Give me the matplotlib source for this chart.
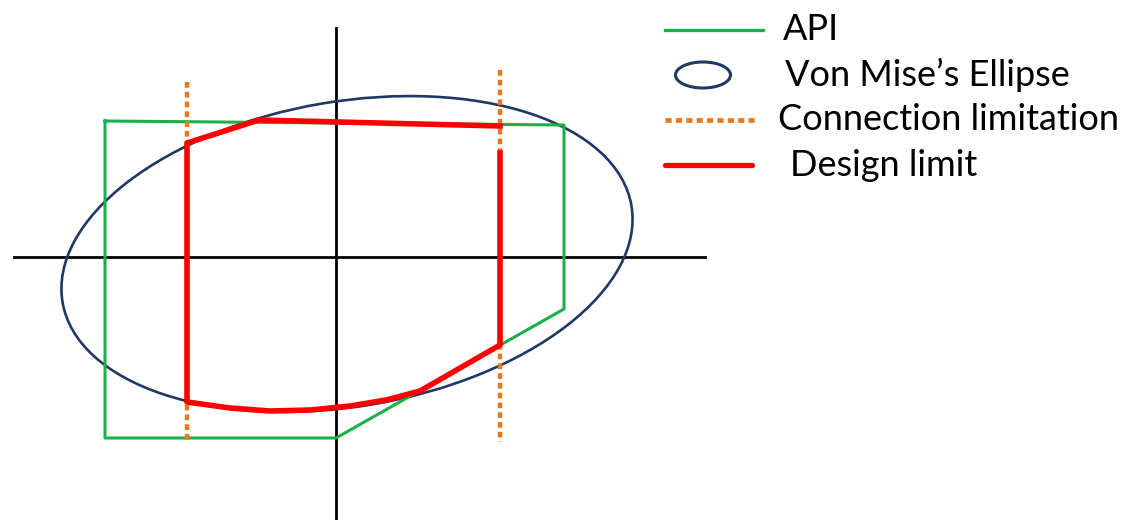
import matplotlib
matplotlib.use('Agg')
import matplotlib.pyplot as plt
from matplotlib.patches import Ellipse

plt.rcParams["font.family"] = ["Lato", "DejaVu Sans"]

# schematic values, origin at the axes crossing, y up
api_x = [-231, 228, 228, 0, -231, -231]
api_y = [136, 132, -52, -181, -181, 136]

design_x = [164, 164, 84, 50, 14, -26, -66, -106, -149, -149, -77, 164]
design_y = [104, -88, -134, -143, -149, -153, -154, -151, -145, 114, 137, 131]

conn_x = [-149, 164]
conn_top = [175, 187]
conn_bottom = [-183, -185]

ell_center = (11, 3)
ell_width = 577
ell_height = 305
ell_angle = 9.65

labels = ["API", "Von Mise\u2019s Ellipse", "Connection limitation", "Design limit"]

green = '#1BAF4B'
navy = '#1F3864'
orange = '#E8791F'
red = '#FF0000'

fig = plt.figure(figsize=(11.26, 5.2), dpi=100)
ax = fig.add_axes([0, 0, 1, 1])
ax.set_xlim(-336, 790)
ax.set_ylim(-263, 257)
ax.axis('off')

# axes cross
ax.plot([-322, 369], [0, 0], color='black', lw=2.0, zorder=1)
ax.plot([0, 0], [229, -263], color='black', lw=2.0, zorder=1)

ax.add_patch(Ellipse(ell_center, ell_width, ell_height, angle=ell_angle,
                     fill=False, edgecolor=navy, lw=1.9, zorder=2))
ax.plot(api_x, api_y, color=green, lw=2.2, zorder=3)
for x, t, b in zip(conn_x, conn_top, conn_bottom):
    ax.plot([x, x], [t, b], color=orange, lw=3.2, dashes=(1.3, 0.9), zorder=4)
ax.plot(design_x, design_y, color=red, lw=4.0, zorder=5, solid_joinstyle='round')

# hand made legend
lx0, lx1, tx = 329, 427, 444
rows = [227, 182, 137, 92]
ax.plot([lx0, lx1], [rows[0], rows[0]], color=green, lw=2.4)
ax.add_patch(Ellipse((367, rows[1]), 55, 26, fill=False, edgecolor=navy, lw=2.2))
ax.plot([lx0, 419], [rows[2], rows[2]], color=orange, lw=3.4, dashes=(1.3, 0.9))
ax.plot([lx0, 416], [rows[3], rows[3]], color=red, lw=3.8, solid_capstyle='round')
text_x = [tx + 3, tx + 5, tx - 2, tx + 10]
for lab, y, x in zip(labels, rows, text_x):
    ax.text(x, y, lab, fontsize=26, va='center', ha='left', color='black')

fig.savefig('out.png', dpi=100)
